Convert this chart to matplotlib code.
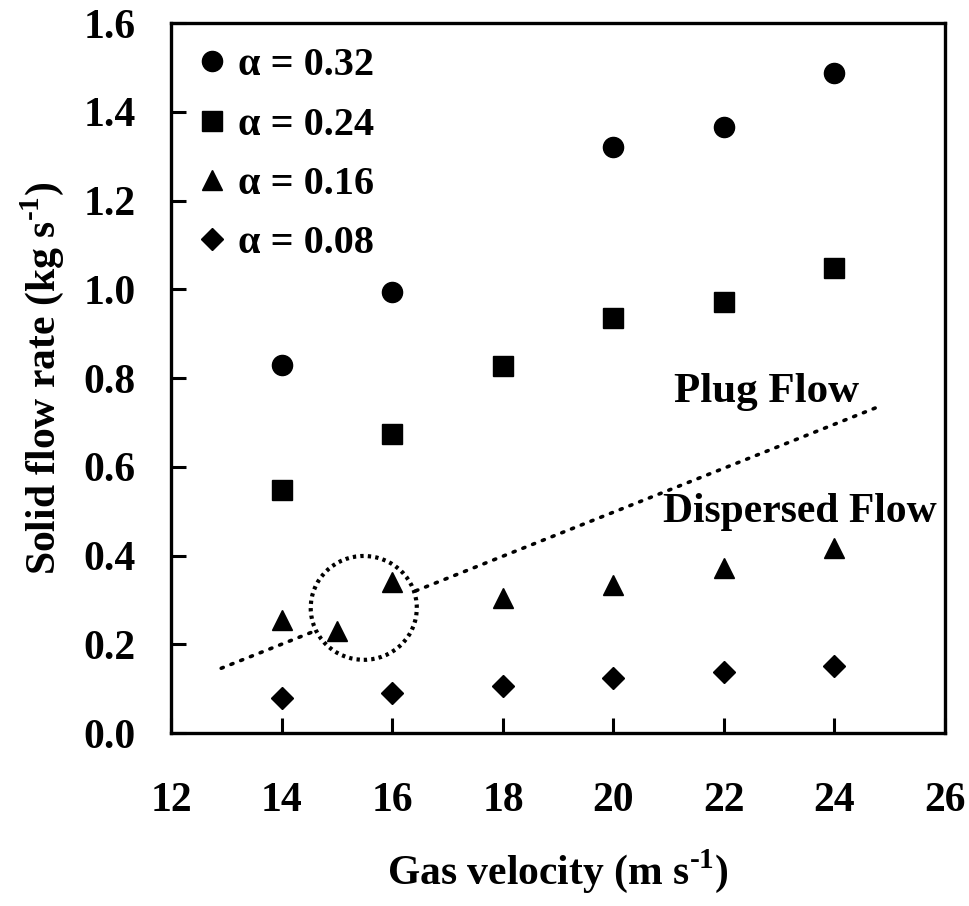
import matplotlib.pyplot as plt
from matplotlib.patches import Ellipse

plt.rcParams['font.family'] = 'Liberation Serif'
plt.rcParams['font.weight'] = 'bold'
plt.rcParams['mathtext.fontset'] = 'custom'
plt.rcParams['mathtext.rm'] = 'Liberation Serif:bold'
plt.rcParams['mathtext.bf'] = 'Liberation Serif:bold'

# gas velocity (m/s)
vel = [14, 16, 20, 22, 24]
vel_sq = [14, 16, 18, 20, 22, 24]
vel_tri = [14, 15, 16, 18, 20, 22, 24]
vel_dia = [14, 16, 18, 20, 22, 24]

# solid flow rate (kg/s)
rate_032 = [0.83, 0.994, 1.32, 1.365, 1.487]
rate_024 = [0.547, 0.673, 0.826, 0.936, 0.972, 1.049]
rate_016 = [0.254, 0.231, 0.340, 0.305, 0.334, 0.372, 0.416]
rate_008 = [0.078, 0.091, 0.105, 0.123, 0.137, 0.151]

# regime boundary
bound_x = [12.9, 24.85]
bound_y = [0.146, 0.738]

fig = plt.figure(figsize=(9.7, 9.06), dpi=100)
ax = fig.add_axes([0.1768, 0.1909, 0.7974, 0.7837])

ax.plot(bound_x, bound_y, color='black', lw=2.6, linestyle=(0, (0.6, 2.3)),
        dash_capstyle='round', zorder=1)
circ = Ellipse((15.48, 0.282), 1.92, 0.234, facecolor='white', edgecolor='black',
               lw=3.0, linestyle=(0, (0.8, 1.0)), zorder=2)
ax.add_patch(circ)

ax.plot(vel, rate_032, 'o', color='black', ms=14.5, label='α = 0.32', zorder=3)
ax.plot(vel_sq, rate_024, 's', color='black', ms=14, label='α = 0.24', zorder=3)
ax.plot(vel_tri, rate_016, '^', color='black', ms=15, label='α = 0.16', zorder=3)
ax.plot(vel_dia, rate_008, 'D', color='black', ms=11, label='α = 0.08', zorder=3)

ax.text(21.1, 0.768, 'Plug Flow', fontsize=31, fontweight='bold', ha='left', va='center')
ax.text(20.9, 0.497, 'Dispersed Flow', fontsize=30, fontweight='bold', ha='left', va='center')

ax.set_xlim(12, 26)
ax.set_ylim(0, 1.6)
ax.set_xticks([12, 14, 16, 18, 20, 22, 24, 26])
ax.set_yticks([0.0, 0.2, 0.4, 0.6, 0.8, 1.0, 1.2, 1.4, 1.6])
ax.set_yticklabels(['0.0', '0.2', '0.4', '0.6', '0.8', '1.0', '1.2', '1.4', '1.6'])
ax.tick_params(axis='both', direction='in', length=11, width=2.2, labelsize=30)
ax.tick_params(axis='x', pad=35)
ax.tick_params(axis='y', pad=26)
for s in ax.spines.values():
    s.set_linewidth(2.4)

ax.set_xlabel(r'Gas velocity (m s$^{\text{-1}}$)', fontsize=30, fontweight='bold', labelpad=20)
ax.set_ylabel(r'Solid flow rate (kg s$^{\text{-1}}$)', fontsize=30, fontweight='bold', labelpad=12)

ax.legend(loc='upper left', frameon=False, fontsize=29, handletextpad=0.15,
          handlelength=1.0, labelspacing=0.55, borderaxespad=0.2,
          bbox_to_anchor=(-0.005, 1.0))

fig.savefig('out.png', dpi=100)
